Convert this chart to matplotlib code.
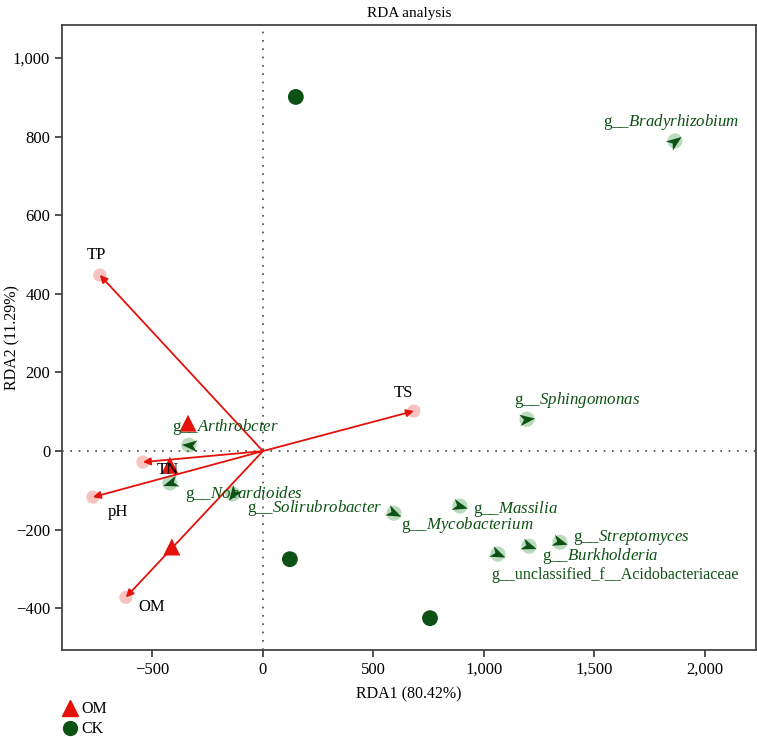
import numpy as np
import matplotlib
matplotlib.use('Agg')
import matplotlib.pyplot as plt
from matplotlib.ticker import FuncFormatter, MultipleLocator
from matplotlib.lines import Line2D
from matplotlib.path import Path
from matplotlib.markers import MarkerStyle
from matplotlib.transforms import Affine2D

plt.rcParams['font.family'] = ['Liberation Serif', 'DejaVu Serif']
plt.rcParams['mathtext.fontset'] = 'custom'
plt.rcParams['mathtext.rm'] = 'Liberation Serif'
plt.rcParams['mathtext.it'] = 'Liberation Serif:italic'

# environmental factors (arrow tips)
env = ['TP', 'TS', 'TN', 'pH', 'OM']
env_x = [-738, 683, -543, -769, -620]
env_y = [448, 102, -28, -117, -372]
env_lab_x = [-751, 638, -430, -656, -502]
env_lab_y = [499, 148, -48, -155, -397]

# samples
om_x = [-339, -421, -412]
om_y = [71, -36, -244]
ck_x = [149, 122, 756]
ck_y = [901, -275, -425]

# genera
genus = ['Bradyrhizobium', 'Sphingomonas', 'Arthrobcter', 'Nocardioides',
         'Solirubrobacter', 'Massilia', 'Mycobacterium', 'Streptomyces',
         'Burkholderia', 'unclassified_f__Acidobacteriaceae']
sp_x = [1864, 1195, -335, -421, -136, 891, 593, 1344, 1204, 1063]
sp_y = [789, 81, 15, -81, -109, -140, -158, -232, -242, -262]
sp_lab_x = [1846, 1136, -412, -353, -70, 950, 624, 1403, 1262, 1032]
sp_lab_y = [837, 130, 61, -109, -145, -148, -188, -219, -267, -316]

red = '#e3120b'
dgreen = '#0d5214'

fig = plt.figure(figsize=(7.57, 7.37), dpi=100)
ax = fig.add_axes([62/757, 1-650/737, (756-62)/757, (650-25)/737])

ax.axhline(0, color='#444444', ls=(0, (1, 4)), lw=1.2, zorder=0)
ax.axvline(0, color='#444444', ls=(0, (1, 4)), lw=1.2, zorder=0)

# env arrows
ax.scatter(env_x, env_y, s=90, color=red, alpha=0.25, edgecolors='none', zorder=2)
for x, y in zip(env_x, env_y):
    ax.annotate('', xy=(x, y), xytext=(0, 0),
                arrowprops=dict(arrowstyle='-|>', color=red, lw=1.3,
                                mutation_scale=11, shrinkA=0, shrinkB=0), zorder=3)
for t, x, y in zip(env, env_lab_x, env_lab_y):
    ax.text(x, y, t, ha='center', va='center', fontsize=12, color='black', zorder=5)

# genera markers: light circle + stealth arrowhead pointing away from origin
head = Path([(1, 0), (-1, 0.75), (-0.45, 0), (-1, -0.75), (1, 0)],
            [Path.MOVETO, Path.LINETO, Path.LINETO, Path.LINETO, Path.CLOSEPOLY])
ax.scatter(sp_x, sp_y, s=120, color='#3a9a44', alpha=0.35, edgecolors='none', zorder=2)
for x, y in zip(sp_x, sp_y):
    ang = np.degrees(np.arctan2(y * 0.393, x * 0.221))
    m = MarkerStyle(head, transform=Affine2D().rotate_deg(ang))
    ax.plot(x, y, marker=m, ms=11, color=dgreen, mec='none', ls='none', zorder=3)
for i, (g, x, y) in enumerate(zip(genus, sp_lab_x, sp_lab_y)):
    if g.startswith('unclassified'):
        s, fs = 'g__' + g, 11.5
    else:
        s, fs = 'g__$\\mathit{' + g + '}$', 12.2
    ax.text(x, y, s, ha='center' if i == 0 else 'left', va='center',
            fontsize=fs, color=dgreen, zorder=5)

# samples
ax.scatter(om_x, om_y, marker='^', s=150, color=red, edgecolors='none', zorder=4)
ax.scatter(ck_x, ck_y, marker='o', s=130, color=dgreen, edgecolors='none', zorder=4)

ax.set_xlim(-909, 2231)
ax.set_ylim(-506, 1084)
ax.xaxis.set_major_locator(MultipleLocator(500))
ax.yaxis.set_major_locator(MultipleLocator(200))
fmt = FuncFormatter(lambda v, p: f'{v:,.0f}'.replace('-', '\u2212'))
ax.xaxis.set_major_formatter(fmt)
ax.yaxis.set_major_formatter(fmt)
ax.tick_params(labelsize=12, length=5, width=1.2, color='#333333')
for sp in ax.spines.values():
    sp.set_linewidth(1.3)
    sp.set_color('#444444')

ax.set_xlabel('RDA1 (80.42%)', fontsize=11.5, labelpad=6)
ax.set_ylabel('RDA2 (11.29%)', fontsize=11.5)
ax.yaxis.set_label_coords(-42/694, 0.5)
ax.set_title('RDA analysis', fontsize=11, pad=6)

handles = [Line2D([], [], marker='^', ls='none', color=red, markersize=11),
           Line2D([], [], marker='o', ls='none', color=dgreen, markersize=10)]
fig.legend(handles, ['OM', 'CK'], loc='upper left', bbox_to_anchor=(54/757, 1-695/737),
           frameon=False, fontsize=11.5, handletextpad=0.1, labelspacing=0.25,
           borderaxespad=0, handlelength=1.2)

fig.savefig('out.png', dpi=100)
